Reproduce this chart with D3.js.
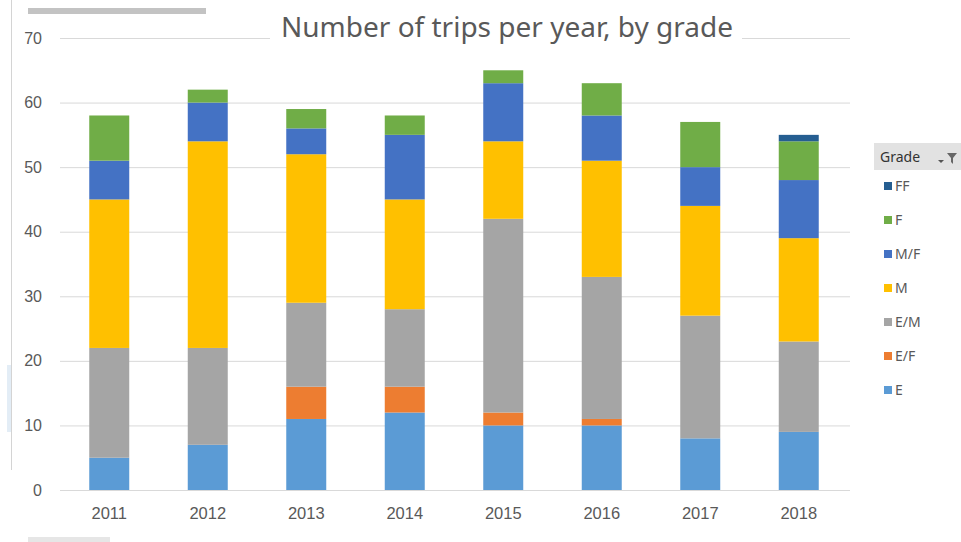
<!DOCTYPE html>
<html>
<head>
<meta charset="utf-8">
<script src="https://cdn.jsdelivr.net/npm/d3@7"></script>
<style>
  body { margin: 0; background: #fff; }
  svg { display: block; font-family: "Noto Sans", sans-serif; }
  .tick text { fill: #595959; }
</style>
</head>
<body>
<svg id="chart" width="961" height="542"></svg>
<script>
// data
const years = ['2011', '2012', '2013', '2014', '2015', '2016', '2017', '2018'];
const grades = ['E', 'E/F', 'E/M', 'M', 'M/F', 'F', 'FF'];
const E   = [5, 7, 11, 12, 10, 10, 8, 9];
const EF  = [0, 0, 5, 4, 2, 1, 0, 0];
const EM  = [17, 15, 13, 12, 30, 22, 19, 14];
const M   = [23, 32, 23, 17, 12, 18, 17, 16];
const MF  = [6, 6, 4, 10, 9, 7, 6, 9];
const F   = [7, 2, 3, 3, 2, 5, 7, 6];
const FF  = [0, 0, 0, 0, 0, 0, 0, 1];
const yTicks = [0, 10, 20, 30, 40, 50, 60, 70];
const colors = ['#5b9bd5', '#ed7d31', '#a5a5a5', '#ffc000', '#4472c4', '#70ad47', '#255e91'];

const series = [E, EF, EM, M, MF, F, FF];
const rows = years.map((yr, i) => {
  const r = { year: yr };
  grades.forEach((g, k) => { r[g] = series[k][i]; });
  return r;
});

const svg = d3.select('#chart');

// scales
const x = d3.scaleBand().domain(years).range([60, 848]).paddingInner(0.594).paddingOuter(0.297);
const y = d3.scaleLinear().domain([0, 70]).range([490, 38]);
const color = d3.scaleOrdinal().domain(grades).range(colors);

// screenshot leftovers around the chart
svg.append('line').attr('x1', 11.5).attr('x2', 11.5).attr('y1', 0).attr('y2', 470)
  .attr('stroke', '#d4d4d4');
svg.append('rect').attr('x', 7).attr('y', 365).attr('width', 4).attr('height', 67).attr('fill', '#e3edf6');
svg.append('rect').attr('x', 28).attr('y', 8).attr('width', 178).attr('height', 6).attr('fill', '#c3c3c3');
svg.append('rect').attr('x', 28).attr('y', 537).attr('width', 82).attr('height', 5).attr('fill', '#e6e6e6');

// gridlines + y labels
const yAxis = svg.append('g')
  .attr('transform', 'translate(60,0)')
  .call(d3.axisLeft(y).tickValues(yTicks).tickSize(-790).tickPadding(18));
yAxis.select('.domain').remove();
yAxis.selectAll('.tick line').attr('stroke', '#d9d9d9');
yAxis.selectAll('.tick text').style('font-size', '16px');

// stacked bars
const stacked = d3.stack().keys(grades)(rows);
svg.append('g').selectAll('g').data(stacked)
  .enter().append('g')
    .attr('fill', d => color(d.key))
  .selectAll('rect').data(d => d)
  .enter().append('rect')
    .attr('x', d => x(d.data.year))
    .attr('y', d => y(d[1]))
    .attr('width', x.bandwidth())
    .attr('height', d => y(d[0]) - y(d[1]));

// x labels
const xAxis = svg.append('g')
  .attr('transform', 'translate(0,490)')
  .call(d3.axisBottom(x).tickSize(0).tickPadding(17));
xAxis.select('.domain').remove();
xAxis.selectAll('.tick text').style('font-size', '16.5px');

// title with white box behind it
svg.append('rect').attr('x', 270).attr('y', 12).attr('width', 472).attr('height', 34).attr('fill', '#fff');
svg.append('text')
  .attr('x', 507).attr('y', 37)
  .attr('text-anchor', 'middle')
  .attr('fill', '#595959')
  .style('font-size', '28px')
  .text('Number of trips per year, by grade');

// legend (pivot field button + items, top grade first)
const legend = svg.append('g');
legend.append('rect').attr('x', 874).attr('y', 143).attr('width', 87).attr('height', 27)
  .attr('fill', '#e2e2e2');
legend.append('text').attr('x', 880).attr('y', 162)
  .attr('fill', '#333').style('font-size', '14px').text('Grade');
legend.append('path').attr('d', 'M938,160 l6,0 l-3,3 z').attr('fill', '#555');
legend.append('path').attr('d', 'M947,153 l10,0 l-4,5 l0,6 l-2,-2 l0,-4 z').attr('fill', '#666');

const items = legend.selectAll('g.item').data(grades.slice().reverse())
  .enter().append('g')
    .attr('class', 'item')
    .attr('transform', (d, i) => `translate(884,${186 + i * 34})`);
items.append('rect').attr('x', 0).attr('y', -4).attr('width', 8).attr('height', 8)
  .attr('fill', d => color(d));
items.append('text').attr('x', 11).attr('y', 5)
  .attr('fill', '#595959').style('font-size', '14px')
  .text(d => d);
</script>
</body>
</html>
